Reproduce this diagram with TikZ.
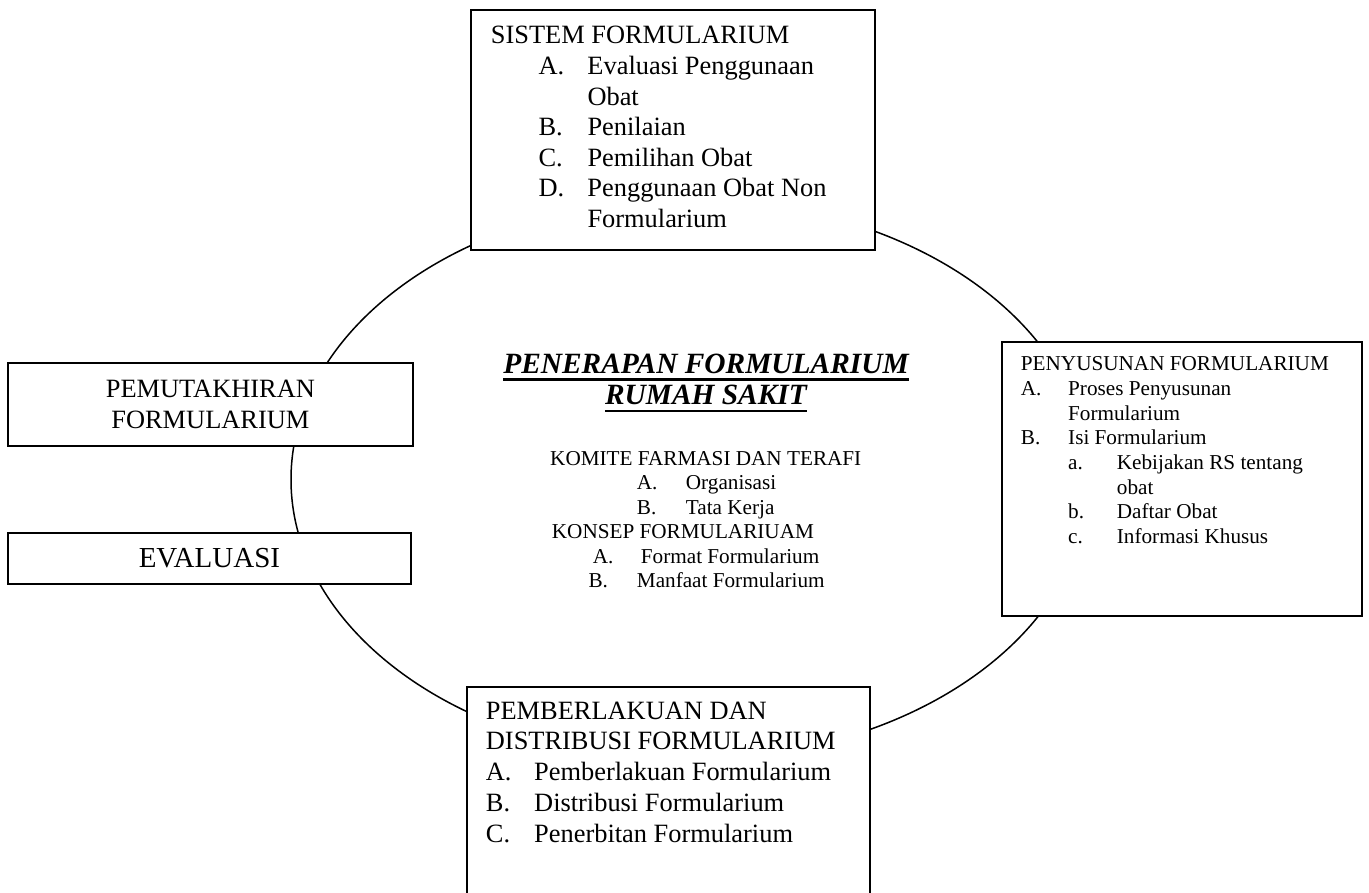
\documentclass[tikz,border=0pt]{standalone}
\usepackage{fontspec}
\setmainfont{Liberation Serif}
\usetikzlibrary{shapes.geometric,positioning}
\newcommand{\lbl}[2]{\makebox[#1][l]{#2}}
\newcommand{\garis}[1]{\setbox0\hbox{#1}\rlap{\rule[-7.4pt]{\wd0}{2.4pt}}\box0}

\begin{document}
\begin{tikzpicture}[
    x=1pt, y=-1pt,
    every node/.style={inner sep=0pt},
    kotak/.style={draw, line width=2pt, fill=white},
    isi/.style={anchor=base west, align=left}
]
\useasboundingbox (0,0) rectangle (1369,893);

% lingkaran tengah
\node[draw, ellipse, line width=1.5pt,
      minimum width=798pt, minimum height=560pt] (siklus) at (690,479.5) {};

% kotak atas
\node[kotak, minimum width=404pt, minimum height=240.5pt] (sistem) at (673,130.25) {};
\node[isi] (sistemisi) at ([shift={(20.7,35)}]sistem.north west) {%
  \fontsize{26.4}{30.6}\selectfont
  \begin{tabular}[t]{@{}l@{}}
  SISTEM FORMULARIUM\\
  \hspace*{47.6pt}\lbl{49pt}{A.}Evaluasi Penggunaan\\
  \hspace*{96.6pt}Obat\\
  \hspace*{47.6pt}\lbl{49pt}{B.}Penilaian\\
  \hspace*{47.6pt}\lbl{49pt}{C.}Pemilihan Obat\\
  \hspace*{47.6pt}\lbl{49pt}{D.}Penggunaan Obat Non\\
  \hspace*{96.6pt}Formularium
  \end{tabular}};

% kotak kanan
\node[kotak, minimum width=360.8pt, minimum height=274.3pt] (penyusunan) at (1181.9,478.85) {};
\node[isi] (penyusunanisi) at ([shift={(20.2,30)}]penyusunan.north west) {%
  \fontsize{21.2}{24.7}\selectfont
  \begin{tabular}[t]{@{}l@{}}
  PENYUSUNAN FORMULARIUM\\
  \lbl{47.3pt}{A.}Proses Penyusunan\\
  \hspace*{47.3pt}Formularium\\
  \lbl{47.3pt}{B.}Isi Formularium\\
  \hspace*{47.3pt}\lbl{48.7pt}{a.}Kebijakan RS tentang\\
  \hspace*{96pt}obat\\
  \hspace*{47.3pt}\lbl{48.7pt}{b.}Daftar Obat\\
  \hspace*{47.3pt}\lbl{48.7pt}{c.}Informasi Khusus
  \end{tabular}};

% kotak bawah
\node[kotak, minimum width=402.8pt, minimum height=223.3pt] (pemberlakuan) at (668.1,798.35) {};
\node[isi] (pemberlakuanisi) at ([shift={(20,33.3)}]pemberlakuan.north west) {%
  \fontsize{26.4}{30.8}\selectfont
  \begin{tabular}[t]{@{}l@{}}
  PEMBERLAKUAN DAN\\
  DISTRIBUSI FORMULARIUM\\
  \lbl{48.3pt}{A.}Pemberlakuan Formularium\\
  \lbl{48.3pt}{B.}Distribusi Formularium\\
  \lbl{48.3pt}{C.}Penerbitan Formularium
  \end{tabular}};

% kotak kiri
\node[kotak, minimum width=404.2pt, minimum height=83pt, align=center,
      font=\fontsize{26.4}{31.5}\selectfont] (pemutakhiran) at (210.4,404.5)
      {PEMUTAKHIRAN\\FORMULARIUM};
\node[kotak, minimum width=403.2pt, minimum height=51.5pt,
      font=\fontsize{29}{33}\selectfont] (evaluasi) at (209.4,558.25) {EVALUASI};

% judul tengah
\node[anchor=base] (judul) at (706,373.3) {%
  \fontsize{29.4}{31.7}\selectfont\bfseries\itshape
  \begin{tabular}[t]{@{}c@{}}
  \garis{PENERAPAN FORMULARIUM}\\
  \garis{RUMAH SAKIT}
  \end{tabular}};

\node[isi] (komite) at (550,465) {%
  \fontsize{21.2}{24.5}\selectfont
  \begin{tabular}[t]{@{}l@{}}
  KOMITE FARMASI DAN TERAFI\\
  \hspace*{86.7pt}\lbl{49pt}{A.}Organisasi\\
  \hspace*{86.7pt}\lbl{49pt}{B.}Tata Kerja\\
  \hspace*{1.7pt}KONSEP FORMULARIUAM\\
  \hspace*{42.7pt}\lbl{48pt}{A.}Format Formularium\\
  \hspace*{38.3pt}\lbl{48.4pt}{B.}Manfaat Formularium
  \end{tabular}};
\end{tikzpicture}
\end{document}
